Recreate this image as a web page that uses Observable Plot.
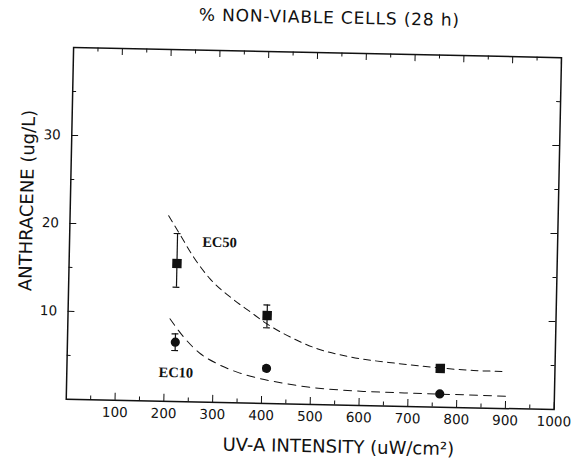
<!DOCTYPE html>
<html><head><meta charset="utf-8">
<script src="https://cdn.jsdelivr.net/npm/d3@7"></script>
<script src="https://cdn.jsdelivr.net/npm/@observablehq/plot@0.6"></script>
<style>
body{margin:0;background:#fff;}
#fig{position:relative;width:579px;height:464px;transform:rotate(1.2deg);transform-origin:314px 227px;}
#chart{position:absolute;left:0;top:0;}
#title{position:absolute;z-index:2;left:325px;top:7px;transform:translateX(-50%);font:17px "DejaVu Sans",sans-serif;letter-spacing:0.85px;white-space:nowrap;color:#111;}
</style></head><body>
<div id="fig"><div id="chart"></div><div id="title"></div></div>
<script>
// ---- text ----
const titleText = "% NON-VIABLE CELLS (28 h)";
const xLabel = "UV-A INTENSITY (uW/cm²)";
const yLabel = "ANTHRACENE (ug/L)";
// ---- ticks ----
const xTickLabels = [100, 200, 300, 400, 500, 600, 700, 800, 900, 1000];
const xMinorTicks = [50, 150, 250, 350, 450, 550, 650, 750, 850, 950];
const yTickLabels = [10, 20, 30];
const yMinorTicks = [5, 15, 25, 35];
// ---- measured points (mean, error bar low/high) ----
const ec50X = [221, 408, 765];
const ec50Y = [15.7, 10.0, 4.4];
const ec50Lo = [13.0, 8.6, 4.1];
const ec50Hi = [19.1, 11.2, 4.7];
const ec10X = [221, 409, 765];
const ec10Y = [6.75, 4.0, 1.5];
const ec10Lo = [5.8, 3.7, 1.3];
const ec10Hi = [7.7, 4.3, 1.7];
// ---- fitted curves ----
const ec50CurveX = [202, 227, 255, 290, 332, 374, 408, 457, 512, 580, 680, 765, 833, 900];
const ec50CurveY = [21.1, 18.9, 16.45, 14.0, 12.0, 10.35, 9.05, 7.6, 6.35, 5.5, 4.85, 4.45, 4.25, 4.2];
const ec10CurveX = [209, 238, 273, 308, 349, 397, 445, 500, 555, 616, 712, 794, 902];
const ec10CurveY = [9.4, 7.35, 5.5, 4.4, 3.5, 2.8, 2.35, 1.95, 1.73, 1.6, 1.52, 1.47, 1.4];
// ---- curve labels ----
const curveLabels = ["EC50", "EC10"];
const curveLabelX = [272, 188];
const curveLabelY = [18.2, 3.3];

const pts = (X, Y, L, H) => X.map((x, i) => ({x, y: Y[i], lo: L[i], hi: H[i]}));
const ec50 = pts(ec50X, ec50Y, ec50Lo, ec50Hi);
const ec10 = pts(ec10X, ec10Y, ec10Lo, ec10Hi);
const errs = ec50.concat(ec10);
const c50 = ec50CurveX.map((x, i) => ({x, y: ec50CurveY[i]}));
const c10 = ec10CurveX.map((x, i) => ({x, y: ec10CurveY[i]}));
const labs = curveLabels.map((t, i) => ({t, x: curveLabelX[i], y: curveLabelY[i]}));

document.getElementById("title").textContent = titleText;

const ink = "#111";
const sans = "'DejaVu Sans', sans-serif";
const chart = Plot.plot({
  width: 579,
  height: 464,
  marginLeft: 69.4,
  marginRight: 21.6,
  marginTop: 52,
  marginBottom: 60,
  style: {fontFamily: sans, fontSize: "13.5px", color: ink, background: "white"},
  x: {domain: [0, 1000], label: null},
  y: {domain: [0, 40], label: null},
  marks: [
    // inward ticks on all four sides
    Plot.ruleX(xTickLabels, {x: d => d, y1: 0, y2: 0.8, stroke: ink}),
    Plot.ruleX(xMinorTicks, {x: d => d, y1: 0, y2: 0.45, stroke: ink}),
    Plot.ruleX(xTickLabels, {x: d => d, y1: 40, y2: 39.2, stroke: ink}),
    Plot.ruleX(xMinorTicks, {x: d => d, y1: 40, y2: 39.55, stroke: ink}),
    Plot.ruleY(yTickLabels, {y: d => d, x1: 0, x2: 14, stroke: ink}),
    Plot.ruleY(yMinorTicks, {y: d => d, x1: 0, x2: 8, stroke: ink}),
    Plot.ruleY(yTickLabels, {y: d => d, x1: 1000, x2: 986, stroke: ink}),
    Plot.ruleY(yMinorTicks, {y: d => d, x1: 1000, x2: 992, stroke: ink}),
    Plot.axisX(xTickLabels, {tickSize: 0, tickPadding: 7, fontSize: 13.5, tickFormat: d => String(d)}),
    Plot.axisY(yTickLabels, {tickSize: 0, tickPadding: 11, fontSize: 13.5, tickFormat: d => String(d)}),
    Plot.frame({stroke: ink, strokeWidth: 1.5}),
    // fitted curves
    Plot.line(c50, {x: "x", y: "y", curve: "monotone-x", stroke: ink, strokeWidth: 1, strokeDasharray: "7,5"}),
    Plot.line(c10, {x: "x", y: "y", curve: "monotone-x", stroke: ink, strokeWidth: 1, strokeDasharray: "8,6"}),
    // error bars
    Plot.ruleX(errs, {x: "x", y1: "lo", y2: "hi", stroke: ink, strokeWidth: 1.2}),
    Plot.ruleY(errs, {y: "hi", x1: d => d.x - 7, x2: d => d.x + 7, stroke: ink, strokeWidth: 1.2}),
    Plot.ruleY(errs, {y: "lo", x1: d => d.x - 7, x2: d => d.x + 7, stroke: ink, strokeWidth: 1.2}),
    // points
    Plot.dot(ec50, {x: "x", y: "y", symbol: "square", r: 5.3, fill: ink, stroke: "none"}),
    Plot.dot(ec10, {x: "x", y: "y", symbol: "circle", r: 4.6, fill: ink, stroke: "none"}),
    // curve labels
    Plot.text(labs, {x: "x", y: "y", text: "t", textAnchor: "start", fontFamily: "'Liberation Serif', 'DejaVu Serif', serif", fontWeight: "bold", fontSize: 14.5, fill: ink}),
    // axis titles
    Plot.text([xLabel], {text: d => d, frameAnchor: "bottom", textAnchor: "middle", lineAnchor: "middle", dx: 29, dy: 42, fontSize: 18, letterSpacing: 1.1, fill: ink}),
    Plot.text([yLabel], {text: d => d, frameAnchor: "left", textAnchor: "middle", lineAnchor: "middle", rotate: -90, dx: -43, dy: -22, fontSize: 18, letterSpacing: 1.3, fill: ink})
  ]
});
document.getElementById("chart").appendChild(chart);
</script>
</body></html>
